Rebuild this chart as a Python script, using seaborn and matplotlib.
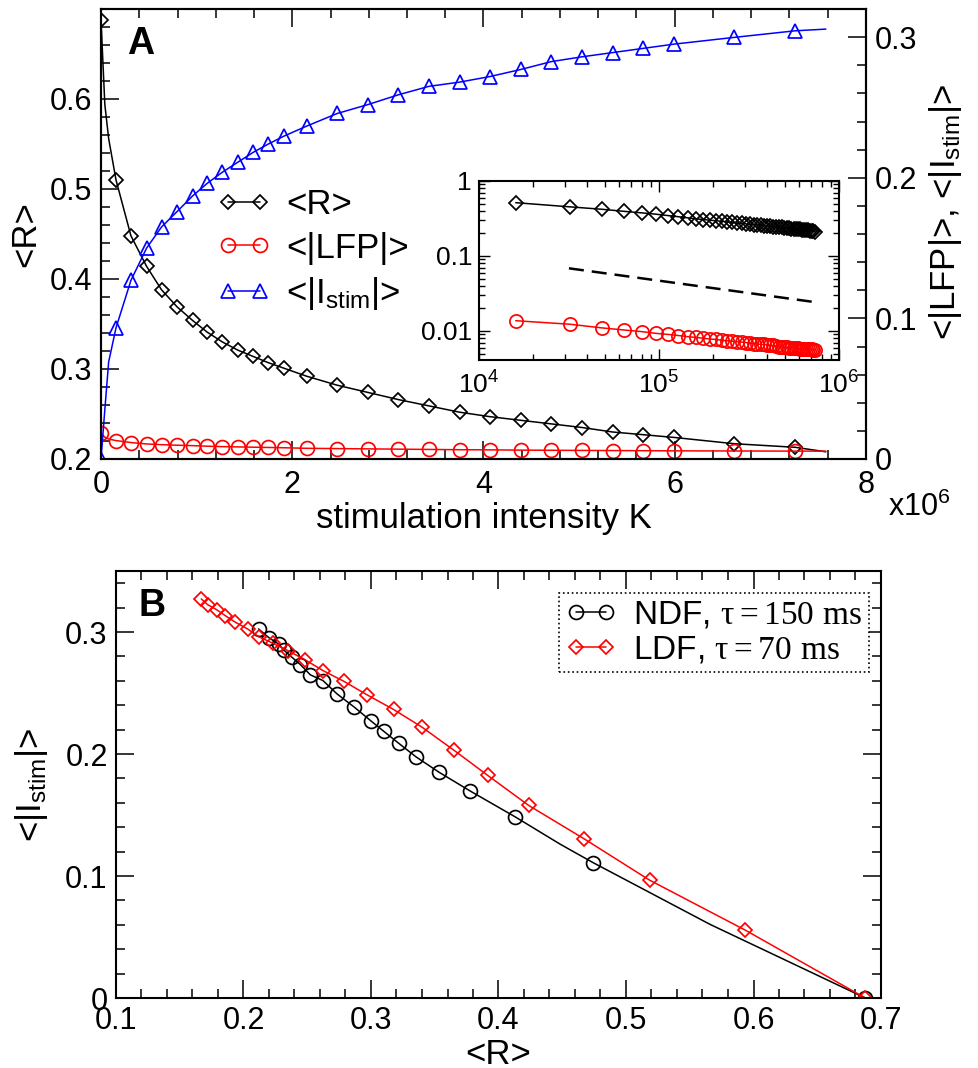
import matplotlib
matplotlib.use("Agg")
import matplotlib.pyplot as plt
from matplotlib.ticker import MultipleLocator, LogLocator, NullFormatter
import numpy as np
import seaborn as sns

# ---------------- panel A: mean order parameter and field amplitudes vs K ----------------
k_1e6 = [0.0, 0.04, 0.08, 0.157, 0.313, 0.477, 0.633, 0.796, 0.957, 1.11, 1.27, 1.43,
         1.59, 1.75, 1.91, 2.15, 2.47, 2.79, 3.11, 3.43, 3.75, 4.07, 4.39, 4.71, 5.03,
         5.35, 5.67, 5.99, 6.62, 7.26, 7.58]
r_mean = [0.688, 0.594, 0.556, 0.510, 0.448, 0.414, 0.388, 0.369, 0.354, 0.341, 0.330,
          0.321, 0.314, 0.307, 0.301, 0.292, 0.282, 0.274, 0.266, 0.259, 0.252, 0.247,
          0.243, 0.239, 0.235, 0.230, 0.227, 0.224, 0.217, 0.213, 0.208]
lfp_mean = [0.0183, 0.0155, 0.0142, 0.0131, 0.0117, 0.0107, 0.0102, 0.0098, 0.0095,
            0.0091, 0.0088, 0.0086, 0.0084, 0.0082, 0.0080, 0.0076, 0.0074, 0.0072,
            0.0070, 0.0068, 0.0066, 0.0065, 0.0063, 0.0062, 0.0061, 0.0060, 0.0059,
            0.0058, 0.0057, 0.0056, 0.0056]
istim_mean = [0.0, 0.035, 0.069, 0.0933, 0.127, 0.150, 0.165, 0.176, 0.187, 0.196,
              0.204, 0.211, 0.218, 0.224, 0.2295, 0.2367, 0.2457, 0.252, 0.259, 0.265,
              0.268, 0.272, 0.277, 0.2826, 0.286, 0.289, 0.292, 0.295, 0.2998, 0.3045,
              0.3057]
marked_a = [0] + list(range(3, 30))
r_ticks = [0.2, 0.3, 0.4, 0.5, 0.6]
amp_ticks = [0.0, 0.1, 0.2, 0.3]

# inset: log-log view of <R> and <|LFP|>
inset_k = [1.6e4, 3.2e4, 4.8e4, 6.4e4, 8.0e4, 9.6e4, 1.12e5, 1.28e5, 1.44e5, 1.6e5,
           1.76e5, 1.92e5, 2.08e5, 2.24e5, 2.4e5, 2.56e5, 2.72e5, 2.88e5, 3.04e5, 3.2e5,
           3.36e5, 3.52e5, 3.68e5, 3.84e5, 4.0e5, 4.16e5, 4.32e5, 4.48e5, 4.64e5, 4.8e5,
           4.96e5, 5.12e5, 5.28e5, 5.44e5, 5.6e5, 5.76e5, 5.92e5, 6.08e5, 6.24e5, 6.4e5,
           6.56e5, 6.72e5, 6.88e5, 7.04e5, 7.2e5, 7.36e5]
inset_r = [0.514, 0.452, 0.420, 0.394, 0.376, 0.361, 0.346, 0.334, 0.323, 0.313, 0.306,
           0.300, 0.295, 0.290, 0.285, 0.280, 0.276, 0.272, 0.268, 0.265, 0.262, 0.259,
           0.256, 0.253, 0.251, 0.248, 0.246, 0.244, 0.242, 0.240, 0.238, 0.236, 0.234,
           0.232, 0.231, 0.229, 0.227, 0.226, 0.224, 0.223, 0.221, 0.220, 0.218, 0.217,
           0.214, 0.211]
inset_lfp = [0.0137, 0.0123, 0.0110, 0.0103, 0.0098, 0.0093, 0.0090, 0.0087, 0.0084,
             0.0082, 0.0080, 0.0078, 0.0077, 0.0075, 0.0074, 0.0073, 0.0072, 0.0071,
             0.0070, 0.0069, 0.0068, 0.0067, 0.0066, 0.0066, 0.0065, 0.0064, 0.0064,
             0.0063, 0.0062, 0.0062, 0.0061, 0.0061, 0.0060, 0.0060, 0.0059, 0.0059,
             0.0059, 0.0058, 0.0058, 0.0058, 0.0057, 0.0057, 0.0057, 0.0057, 0.0056,
             0.0056]
guide_k = [3.16e4, 7.68e5]
guide_y = [0.0685, 0.0239]

# ---------------- panel B: <|I_stim|> vs <R> for two feedback schemes ----------------
ndf_r = [0.2118, 0.2202, 0.2275, 0.2315, 0.2380, 0.2446, 0.2524, 0.2623, 0.2733, 0.2869,
         0.3002, 0.3099, 0.3216, 0.3355, 0.3536, 0.3779, 0.4132, 0.4485, 0.4741, 0.566,
         0.6877]
ndf_i = [0.3025, 0.2951, 0.2902, 0.2853, 0.2793, 0.2733, 0.2649, 0.2602, 0.2493, 0.2384,
         0.2269, 0.2187, 0.2089, 0.1975, 0.1849, 0.1696, 0.1484, 0.126, 0.1110, 0.0603,
         0.0]
marked_ndf = list(range(0, 17)) + [18, 20]
ldf_r = [0.1669, 0.1719, 0.1792, 0.1857, 0.1936, 0.2032, 0.2118, 0.2231, 0.2346, 0.2485,
         0.2623, 0.2785, 0.2969, 0.3177, 0.340, 0.3653, 0.3915, 0.4236, 0.4668, 0.5185,
         0.5936, 0.6877]
ldf_i = [0.3271, 0.3224, 0.3181, 0.3134, 0.3080, 0.3025, 0.2962, 0.2908, 0.2848, 0.2771,
         0.2684, 0.2597, 0.2485, 0.2365, 0.2220, 0.2029, 0.1825, 0.1579, 0.1307, 0.0966,
         0.0556, 0.0]

# ---------------- style ----------------
sns.set_theme(style="ticks")
plt.rcParams.update({
    "font.family": ["Liberation Sans", "DejaVu Sans"],
    "mathtext.fontset": "custom",
    "mathtext.rm": "Liberation Serif",
    "mathtext.sf": "Liberation Sans",
    "mathtext.it": "Liberation Sans:italic",
    "axes.edgecolor": "black",
    "axes.linewidth": 1.5,
    "text.color": "black",
    "axes.labelcolor": "black",
    "xtick.color": "black",
    "ytick.color": "black",
    "legend.frameon": False,
})

TICK_FS = 22
LABEL_FS = 25
LW = 1.1
MEW = 1.25
BLACK, RED, BLUE = "#000000", "#ff0000", "#0000ff"
W, H = 979, 1068


def box(l, t, r, b):
    return [l / W, 1 - b / H, (r - l) / W, (b - t) / H]


def ticks_in(ax, axis, major=13, minor=6.5, pad=7, **sides):
    ax.tick_params(axis=axis, which="both", direction="in", width=1.1, **sides)
    ax.tick_params(axis=axis, which="major", length=major, pad=pad, labelsize=TICK_FS)
    ax.tick_params(axis=axis, which="minor", length=minor)


def series(ax, x, y, color, marker, ms, every=None, label=None, **kw):
    sns.lineplot(x=x, y=y, ax=ax, color=color, lw=LW, marker=marker, ms=ms,
                 markerfacecolor="none", markeredgecolor=color, markeredgewidth=MEW,
                 markevery=every, label=label, legend=False, sort=False, **kw)


fmt = plt.FuncFormatter(lambda v, p: f"{v:g}")
fig = plt.figure(figsize=(W / 100, H / 100), dpi=100)

# ---- panel A ----
axA = fig.add_axes(box(101, 9, 866, 459))
axA2 = axA.twinx()
series(axA, k_1e6, r_mean, BLACK, "D", 7.5, marked_a, "<R>")
series(axA2, k_1e6, lfp_mean, RED, "o", 10, marked_a, "<|LFP|>")
series(axA2, k_1e6, istim_mean, BLUE, "^", 9.5, marked_a, r"<|I$_{\mathsf{stim}}$|>")

axA.set_xlim(0, 8)
axA.set_ylim(0.2, 0.7)
axA2.set_ylim(0, 0.32)
axA.xaxis.set_major_locator(MultipleLocator(2))
axA.xaxis.set_minor_locator(MultipleLocator(0.4))
axA.set_yticks(r_ticks)
axA.yaxis.set_minor_locator(MultipleLocator(0.02))
axA2.set_yticks(amp_ticks)
axA2.yaxis.set_minor_locator(MultipleLocator(0.02))
axA.xaxis.set_major_formatter(fmt)
axA.yaxis.set_major_formatter(fmt)
axA2.yaxis.set_major_formatter(fmt)
ticks_in(axA, "x", pad=8, top=True, bottom=True)
ticks_in(axA, "y", pad=6.5, left=True, right=False)
ticks_in(axA2, "y", pad=6.5, right=True, left=False)

axA.set_xlabel("stimulation intensity K", fontsize=LABEL_FS)
axA.xaxis.set_label_coords(0.5, -0.095)
axA.set_ylabel("<R>", fontsize=LABEL_FS)
axA.yaxis.set_label_coords(-0.077, 0.5)
axA2.set_ylabel(r"<|LFP|>, <|I$_{\mathsf{stim}}$|>", fontsize=LABEL_FS)
axA2.yaxis.set_label_coords(1.08, 0.55)
fig.text(888 / W, 1 - 507 / H, r"x10$^{\mathsf{6}}$", fontsize=TICK_FS, ha="left", va="center")
axA.text(0.034, 0.962, "A", transform=axA.transAxes, fontsize=27, fontweight="bold",
         ha="left", va="top")

handles = axA.get_legend_handles_labels()[0] + axA2.get_legend_handles_labels()[0]
labels = axA.get_legend_handles_labels()[1] + axA2.get_legend_handles_labels()[1]
axA2.legend(handles, labels, loc="upper left", bbox_to_anchor=(0.153, 0.602),
            fontsize=LABEL_FS, numpoints=2, markerfirst=True, handlelength=1.5,
            handletextpad=0.45, labelspacing=0.3, borderpad=0, borderaxespad=0)

# ---- inset ----
axI = fig.add_axes(box(479, 181, 839, 360))
axI.set_facecolor("white")
axI.set_xscale("log")
axI.set_yscale("log")
series(axI, inset_k, inset_r, BLACK, "D", 7.5)
series(axI, inset_k, inset_lfp, RED, "o", 9.5)
sns.lineplot(x=guide_k, y=guide_y, ax=axI, color=BLACK, lw=1.8,
             linestyle=(0, (6, 3.2)), legend=False)
axI.set_xlim(1e4, 1e6)
axI.set_ylim(0.0041, 1)
axI.set_xticks([1e4, 1e5, 1e6],
               labels=[r"10$^{\mathsf{4}}$", r"10$^{\mathsf{5}}$", r"10$^{\mathsf{6}}$"])
axI.set_yticks([0.01, 0.1, 1], labels=["0.01", "0.1", "1"])
axI.xaxis.set_minor_locator(LogLocator(base=10, subs=np.arange(2, 10)))
axI.yaxis.set_minor_locator(LogLocator(base=10, subs=np.arange(2, 10)))
axI.xaxis.set_minor_formatter(NullFormatter())
axI.yaxis.set_minor_formatter(NullFormatter())
axI.tick_params(which="both", direction="in", top=True, right=True, width=1.0)
axI.tick_params(which="major", length=8, labelsize=19)
axI.tick_params(which="minor", length=4)
axI.tick_params(axis="x", which="major", pad=8)
axI.tick_params(axis="y", which="major", pad=5)

# ---- panel B ----
axB = fig.add_axes(box(116, 571, 881, 998))
series(axB, ndf_r, ndf_i, BLACK, "o", 10, marked_ndf, r"NDF, $\mathrm{\tau = 150\ ms}$")
series(axB, ldf_r, ldf_i, RED, "D", 7.5, None, r"LDF, $\mathrm{\tau = 70\ ms}$")
axB.set_xlim(0.1, 0.7)
axB.set_ylim(0, 0.35)
axB.xaxis.set_major_locator(MultipleLocator(0.1))
axB.xaxis.set_minor_locator(MultipleLocator(0.02))
axB.set_yticks(amp_ticks)
axB.yaxis.set_minor_locator(MultipleLocator(0.02))
axB.xaxis.set_major_formatter(fmt)
axB.yaxis.set_major_formatter(fmt)
ticks_in(axB, "x", pad=6, top=True, bottom=True)
ticks_in(axB, "y", pad=6, left=True, right=True)
axB.set_xlabel("<R>", fontsize=LABEL_FS)
axB.xaxis.set_label_coords(0.5, -0.094)
axB.set_ylabel(r"<|I$_{\mathsf{stim}}$|>", fontsize=LABEL_FS)
axB.yaxis.set_label_coords(-0.086, 0.5)
axB.text(0.029, 0.96, "B", transform=axB.transAxes, fontsize=27, fontweight="bold",
         ha="left", va="top")
legB = axB.legend(loc="upper right", bbox_to_anchor=(0.984, 0.948), fontsize=24,
                  numpoints=2, handlelength=1.5, handletextpad=0.5, labelspacing=0.1,
                  borderpad=0.2, borderaxespad=0, frameon=True, fancybox=False,
                  framealpha=1, edgecolor="black")
legB.get_frame().set_linestyle(":")
legB.get_frame().set_linewidth(1.2)

fig.savefig("out.png", dpi=100)
